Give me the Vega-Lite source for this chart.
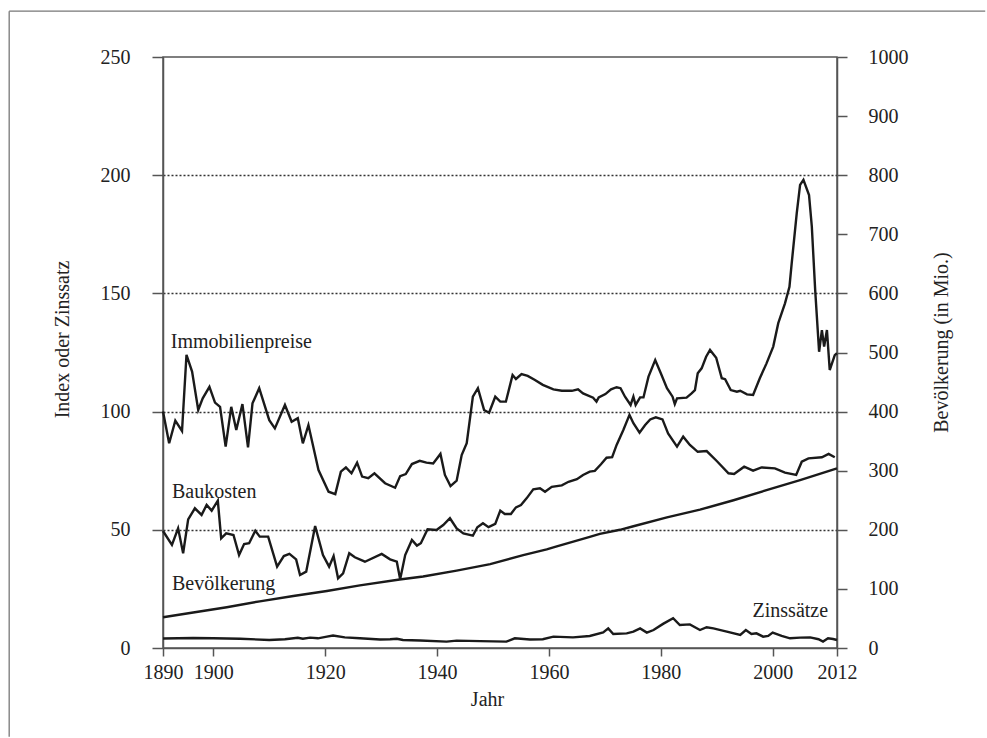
{
  "$schema": "https://vega.github.io/schema/vega-lite/v6.json",
  "width": 674,
  "height": 591,
  "autosize": {"type": "none"},
  "padding": {"left": 163, "top": 57, "right": 150, "bottom": 90},
  "background": "white",
  "config": {
    "font": "Liberation Serif",
    "view": {"stroke": "#555", "strokeWidth": 1.5},
    "axis": {
      "labelFont": "Liberation Serif", "labelFontSize": 20, "labelColor": "#222",
      "titleFont": "Liberation Serif", "titleFontSize": 20, "titleFontWeight": "normal", "titleColor": "#222",
      "domainColor": "#555", "domainWidth": 1.5, "tickColor": "#555", "tickWidth": 1.5, "grid": false
    }
  },
  "datasets": {
    "immobilien": [
      {"year":1891.0,"value":100},{"year":1892.1,"value":86.6},{"year":1893.2,"value":96.2},{"year":1894.4,"value":91.8},{"year":1895.2,"value":124},{"year":1896.2,"value":116.9},{"year":1897.3,"value":100.7},{"year":1898.1,"value":105.6},{"year":1899.3,"value":110.5},{"year":1900.3,"value":103.8},{"year":1901.2,"value":102},{"year":1902.2,"value":85.2},{"year":1903.2,"value":102},{"year":1904.1,"value":92.2},{"year":1905.2,"value":103.2},{"year":1906.2,"value":84.9},{"year":1907.0,"value":103.5},{"year":1908.2,"value":109.9},{"year":1910.0,"value":96.4},{"year":1911.0,"value":92.9},{"year":1912.8,"value":102.8},{"year":1914.0,"value":95.7},{"year":1915.1,"value":97.2},{"year":1916.0,"value":86.6},{"year":1917.0,"value":94.3},{"year":1918.8,"value":75.3},{"year":1920.6,"value":66.1},{"year":1921.8,"value":65.1},{"year":1922.8,"value":74.6},{"year":1923.7,"value":76.4},{"year":1924.7,"value":73.9},{"year":1925.7,"value":78.4},{"year":1926.6,"value":72.5},{"year":1927.7,"value":71.8},{"year":1928.8,"value":73.9},{"year":1930.7,"value":69.7},{"year":1932.5,"value":67.8},{"year":1933.4,"value":72.7},{"year":1934.4,"value":73.6},{"year":1935.5,"value":77.8},{"year":1936.9,"value":79.2},{"year":1938.1,"value":78.4},{"year":1939.3,"value":78.1},{"year":1940.6,"value":82.1},{"year":1941.4,"value":73.2},{"year":1942.4,"value":68.5},{"year":1943.5,"value":70.8},{"year":1944.4,"value":81.6},{"year":1945.3,"value":86.6},{"year":1946.4,"value":106.3},{"year":1947.3,"value":109.9},{"year":1948.4,"value":100.7},{"year":1949.3,"value":99.5},{"year":1950.4,"value":106.3},{"year":1951.3,"value":104.2},{"year":1952.3,"value":104.2},{"year":1953.5,"value":115.5},{"year":1954.1,"value":113.8},{"year":1955.1,"value":115.9},{"year":1956.2,"value":115.1},{"year":1957.5,"value":113.4},{"year":1958.9,"value":111.3},{"year":1960.8,"value":109.4},{"year":1962.3,"value":108.8},{"year":1964.1,"value":108.8},{"year":1965.2,"value":109.4},{"year":1966.1,"value":107.7},{"year":1967.9,"value":105.9},{"year":1968.5,"value":104.2},{"year":1968.9,"value":106.0},{"year":1970.1,"value":107.4},{"year":1971.1,"value":109.4},{"year":1972.1,"value":110.3},{"year":1972.8,"value":109.9},{"year":1973.6,"value":106.3},{"year":1974.6,"value":102.8},{"year":1975.1,"value":106.3},{"year":1975.5,"value":102.8},{"year":1976.3,"value":106.0},{"year":1976.9,"value":106},{"year":1977.8,"value":114.8},{"year":1979.0,"value":121.8},{"year":1980.0,"value":116.2},{"year":1981.1,"value":109.9},{"year":1982.1,"value":106.3},{"year":1982.5,"value":103.2},{"year":1982.9,"value":105.6},{"year":1984.6,"value":105.9},{"year":1985.5,"value":107.7},{"year":1986.1,"value":109.1},{"year":1986.6,"value":116.2},{"year":1987.3,"value":118.3},{"year":1988.1,"value":123.2},{"year":1988.8,"value":126.1},{"year":1989.9,"value":122.8},{"year":1990.9,"value":114.1},{"year":1991.5,"value":113.7},{"year":1992.5,"value":109.1},{"year":1993.6,"value":108.4},{"year":1994.2,"value":108.8},{"year":1995.4,"value":107.3},{"year":1996.5,"value":107},{"year":1997.7,"value":114.1},{"year":1998.9,"value":120.4},{"year":2000.1,"value":127.5},{"year":2001.0,"value":137.4},{"year":2002.2,"value":145.8},{"year":2003.0,"value":152.8},{"year":2003.4,"value":162.7},{"year":2004.3,"value":183.9},{"year":2004.9,"value":195.9},{"year":2005.5,"value":198},{"year":2006.5,"value":191.6},{"year":2007.0,"value":178.2},{"year":2007.6,"value":151.4},{"year":2008.3,"value":125.3},{"year":2008.8,"value":134.5},{"year":2009.2,"value":127.5},{"year":2009.7,"value":134.5},{"year":2010.2,"value":117.6},{"year":2011.1,"value":123.9},{"year":2011.5,"value":124.7}
    ],
    "baukosten": [
      {"year":1891.0,"value":49.5},{"year":1892.6,"value":43.6},{"year":1893.7,"value":50.6},{"year":1894.6,"value":40.1},{"year":1895.5,"value":54.4},{"year":1896.7,"value":59.1},{"year":1897.9,"value":56.3},{"year":1898.8,"value":60.5},{"year":1899.7,"value":58.1},{"year":1900.8,"value":62.3},{"year":1901.4,"value":46.4},{"year":1902.3,"value":48.5},{"year":1903.6,"value":47.8},{"year":1904.6,"value":39.3},{"year":1905.5,"value":44.0},{"year":1906.4,"value":44.3},{"year":1907.5,"value":49.6},{"year":1908.3,"value":47.1},{"year":1909.8,"value":47.1},{"year":1911.4,"value":34.4},{"year":1912.6,"value":38.9},{"year":1913.6,"value":39.8},{"year":1914.8,"value":37.5},{"year":1915.5,"value":30.9},{"year":1916.6,"value":32.3},{"year":1918.2,"value":51.6},{"year":1919.6,"value":39.3},{"year":1920.7,"value":34.4},{"year":1921.5,"value":38.9},{"year":1922.3,"value":29.5},{"year":1923.2,"value":31.6},{"year":1924.3,"value":40.1},{"year":1925.3,"value":38.4},{"year":1927.1,"value":36.5},{"year":1930.1,"value":39.8},{"year":1931.6,"value":37.5},{"year":1932.8,"value":36.5},{"year":1933.4,"value":29.1},{"year":1934.3,"value":39.3},{"year":1935.5,"value":45.7},{"year":1936.4,"value":43.3},{"year":1937.1,"value":44.3},{"year":1938.3,"value":50.2},{"year":1939.9,"value":49.9},{"year":1941.1,"value":52.0},{"year":1942.3,"value":54.9},{"year":1943.5,"value":50.6},{"year":1944.7,"value":48.5},{"year":1946.4,"value":47.5},{"year":1947.2,"value":51.1},{"year":1948.2,"value":52.8},{"year":1949.2,"value":51.1},{"year":1950.4,"value":52.5},{"year":1951.3,"value":58.1},{"year":1952.1,"value":56.7},{"year":1953.2,"value":56.7},{"year":1954.1,"value":59.5},{"year":1955.0,"value":60.5},{"year":1956.0,"value":63.3},{"year":1957.2,"value":67.1},{"year":1958.4,"value":67.6},{"year":1959.3,"value":66.1},{"year":1960.5,"value":68.2},{"year":1962.3,"value":68.8},{"year":1963.5,"value":70.3},{"year":1965.0,"value":71.4},{"year":1966.1,"value":73.2},{"year":1967.3,"value":74.6},{"year":1968.2,"value":74.9},{"year":1969.3,"value":77.7},{"year":1970.3,"value":80.5},{"year":1971.3,"value":80.7},{"year":1972.1,"value":85.9},{"year":1973.3,"value":92.2},{"year":1974.4,"value":98.6},{"year":1975.1,"value":95.1},{"year":1976.2,"value":91.1},{"year":1977.2,"value":94.3},{"year":1978.1,"value":96.7},{"year":1979.1,"value":97.6},{"year":1980.3,"value":96.7},{"year":1981.3,"value":90.8},{"year":1982.9,"value":85.2},{"year":1984.0,"value":89.4},{"year":1985.2,"value":85.9},{"year":1986.6,"value":83.0},{"year":1988.2,"value":83.3},{"year":1990.0,"value":79.1},{"year":1992.1,"value":73.9},{"year":1993.1,"value":73.6},{"year":1994.9,"value":76.7},{"year":1996.5,"value":75.0},{"year":1998.0,"value":76.4},{"year":2000.4,"value":76.0},{"year":2002.2,"value":74.2},{"year":2004.2,"value":73.2},{"year":2005.2,"value":78.8},{"year":2006.4,"value":80.2},{"year":2008.8,"value":80.7},{"year":2010.0,"value":82.1},{"year":2011.1,"value":80.7}
    ],
    "zinssaetze": [
      {"year":1891.0,"value":4.0},{"year":1896.4,"value":4.2},{"year":1900.0,"value":4.1},{"year":1904.8,"value":3.9},{"year":1910.0,"value":3.4},{"year":1912.8,"value":3.7},{"year":1915.1,"value":4.3},{"year":1916.0,"value":3.9},{"year":1917.3,"value":4.4},{"year":1918.7,"value":4.1},{"year":1920.3,"value":4.8},{"year":1921.4,"value":5.3},{"year":1923.5,"value":4.5},{"year":1926.2,"value":4.1},{"year":1929.8,"value":3.6},{"year":1931.6,"value":3.7},{"year":1932.8,"value":3.9},{"year":1933.9,"value":3.4},{"year":1937.0,"value":3.2},{"year":1941.7,"value":2.7},{"year":1943.5,"value":3.1},{"year":1947.7,"value":2.9},{"year":1952.4,"value":2.7},{"year":1953.9,"value":4.1},{"year":1956.6,"value":3.6},{"year":1958.9,"value":3.7},{"year":1960.8,"value":4.8},{"year":1964.3,"value":4.5},{"year":1967.3,"value":5.1},{"year":1969.7,"value":6.6},{"year":1970.6,"value":8.3},{"year":1971.5,"value":5.9},{"year":1973.9,"value":6.2},{"year":1975.1,"value":6.9},{"year":1976.3,"value":8.3},{"year":1977.5,"value":6.5},{"year":1978.7,"value":7.6},{"year":1980.4,"value":10.2},{"year":1982.2,"value":12.6},{"year":1983.4,"value":9.7},{"year":1985.2,"value":10.0},{"year":1987.0,"value":7.6},{"year":1988.2,"value":8.8},{"year":1989.4,"value":8.3},{"year":1991.8,"value":6.9},{"year":1994.2,"value":5.5},{"year":1995.2,"value":7.6},{"year":1996.2,"value":5.9},{"year":1997.1,"value":6.2},{"year":1998.3,"value":4.8},{"year":1999.2,"value":5.1},{"year":2000.0,"value":6.5},{"year":2001.6,"value":5.1},{"year":2003.1,"value":4.1},{"year":2004.9,"value":4.4},{"year":2006.7,"value":4.5},{"year":2008.2,"value":3.7},{"year":2009.0,"value":2.7},{"year":2009.9,"value":4.1},{"year":2010.8,"value":3.8},{"year":2011.5,"value":3.4}
    ],
    "bevoelkerung": [
      {"year":1891.0,"value":52},{"year":1896.4,"value":60},{"year":1902.4,"value":69},{"year":1908.3,"value":79},{"year":1914.3,"value":88},{"year":1920.3,"value":96.5},{"year":1926.2,"value":106},{"year":1933.3,"value":116},{"year":1937.5,"value":121},{"year":1943.5,"value":131},{"year":1949.5,"value":142},{"year":1955.4,"value":157},{"year":1959.6,"value":167},{"year":1961.4,"value":172},{"year":1967.3,"value":188},{"year":1969.1,"value":193},{"year":1972.7,"value":200},{"year":1975.1,"value":206},{"year":1981.1,"value":221},{"year":1987.0,"value":234},{"year":1993.0,"value":250},{"year":1998.9,"value":267},{"year":2004.9,"value":284},{"year":2011.5,"value":304}
    ],
    "labels": [
      {"year":1892.4,"value":126.8,"label":"Immobilienpreise"},
      {"year":1892.6,"value":63.3,"label":"Baukosten"},
      {"year":1892.6,"value":24.5,"label":"Bevölkerung"},
      {"year":1996.4,"value":13.0,"label":"Zinssätze"}
    ],
    "rahmen": [
      {"x1": 1863.5, "x2": 2038, "y1": 269.4, "y2": 269.4},
      {"x1": 1863.5, "x2": 1863.5, "y1": 269.4, "y2": -37.5}
    ]
  },
  "encoding": {
    "x": {
      "field": "year", "type": "quantitative",
      "scale": {"domain": [1891, 2011.5], "nice": false, "zero": false},
      "axis": {
        "values": [1891, 1900, 1920, 1940, 1960, 1980, 2000, 2011.5],
        "format": "d",
        "labelExpr": "datum.value < 1895 ? '1890' : datum.value > 2010 ? '2012' : datum.label",
        "tickSize": 8, "labelPadding": 6, "labelFlush": false, "labelOverlap": false, "labelBound": false,
        "title": "Jahr", "titleX": 324, "titleY": 57, "titleAlign": "center", "titleBaseline": "alphabetic"
      }
    }
  },
  "layer": [
    {
      "encoding": {
        "y": {
          "field": "value", "type": "quantitative",
          "scale": {"domain": [0, 250], "nice": false, "zero": false},
          "axis": {
            "orient": "left",
            "values": [0, 50, 100, 150, 200, 250],
            "tickSize": 11, "labelPadding": 22, "labelFlush": false, "labelOverlap": false,
            "title": "Index oder Zinssatz", "titleAngle": 270, "titleX": -95, "titleY": 282,
            "titleAlign": "center", "titleBaseline": "alphabetic",
            "grid": true, "gridDash": [2, 2], "gridColor": "#333", "gridWidth": 1.3,
            "gridOpacity": {"condition": {"test": "datum.value == 0 || datum.value == 250", "value": 0}, "value": 1}
          }
        }
      },
      "layer": [
        {
          "data": {"name": "rahmen"},
          "mark": {"type": "rule", "color": "#777", "strokeWidth": 1.3, "clip": false},
          "encoding": {
            "x": {
              "field": "x1", "type": "quantitative",
              "axis": {
                "values": [1891, 1900, 1920, 1940, 1960, 1980, 2000, 2011.5],
                "format": "d",
                "labelExpr": "datum.value < 1895 ? '1890' : datum.value > 2010 ? '2012' : datum.label",
                "tickSize": 8, "labelPadding": 6, "labelFlush": false, "labelOverlap": false, "labelBound": false,
                "title": "Jahr", "titleX": 324, "titleY": 57, "titleAlign": "center", "titleBaseline": "alphabetic"
              }
            },
            "x2": {"field": "x2"},
            "y": {
              "field": "y1", "type": "quantitative",
              "axis": {
                "orient": "left",
                "values": [0, 50, 100, 150, 200, 250],
                "tickSize": 11, "labelPadding": 22, "labelFlush": false, "labelOverlap": false,
                "title": "Index oder Zinssatz", "titleAngle": 270, "titleX": -95, "titleY": 282,
                "titleAlign": "center", "titleBaseline": "alphabetic",
                "grid": true, "gridDash": [2, 2], "gridColor": "#333", "gridWidth": 1.3,
                "gridOpacity": {"condition": {"test": "datum.value == 0 || datum.value == 250", "value": 0}, "value": 1}
              }
            },
            "y2": {"field": "y2"}
          }
        },
        {
          "data": {"name": "immobilien"},
          "mark": {"type": "line", "color": "#1a1a1a", "strokeWidth": 2.4}
        },
        {
          "data": {"name": "baukosten"},
          "mark": {"type": "line", "color": "#1a1a1a", "strokeWidth": 2.4}
        },
        {
          "data": {"name": "zinssaetze"},
          "mark": {"type": "line", "color": "#1a1a1a", "strokeWidth": 2.4}
        },
        {
          "data": {"name": "labels"},
          "mark": {"type": "text", "align": "left", "baseline": "alphabetic", "font": "Liberation Serif", "fontSize": 20, "color": "#222"},
          "encoding": {"text": {"field": "label", "type": "nominal"}}
        }
      ]
    },
    {
      "data": {"name": "bevoelkerung"},
      "mark": {"type": "line", "color": "#1a1a1a", "strokeWidth": 2.4},
      "encoding": {
        "y": {
          "field": "value", "type": "quantitative",
          "scale": {"domain": [0, 1000], "nice": false, "zero": false},
          "axis": {
            "orient": "right",
            "values": [0, 100, 200, 300, 400, 500, 600, 700, 800, 900, 1000],
            "format": "d",
            "tickSize": 10, "labelPadding": 21, "labelFlush": false, "labelOverlap": false,
            "title": "Bevölkerung (in Mio.)", "titleAngle": 270, "titleX": 110, "titleY": 285,
            "titleAlign": "center", "titleBaseline": "alphabetic", "grid": false
          }
        }
      }
    }
  ],
  "resolve": {"scale": {"y": "independent"}, "axis": {"y": "independent"}}
}
